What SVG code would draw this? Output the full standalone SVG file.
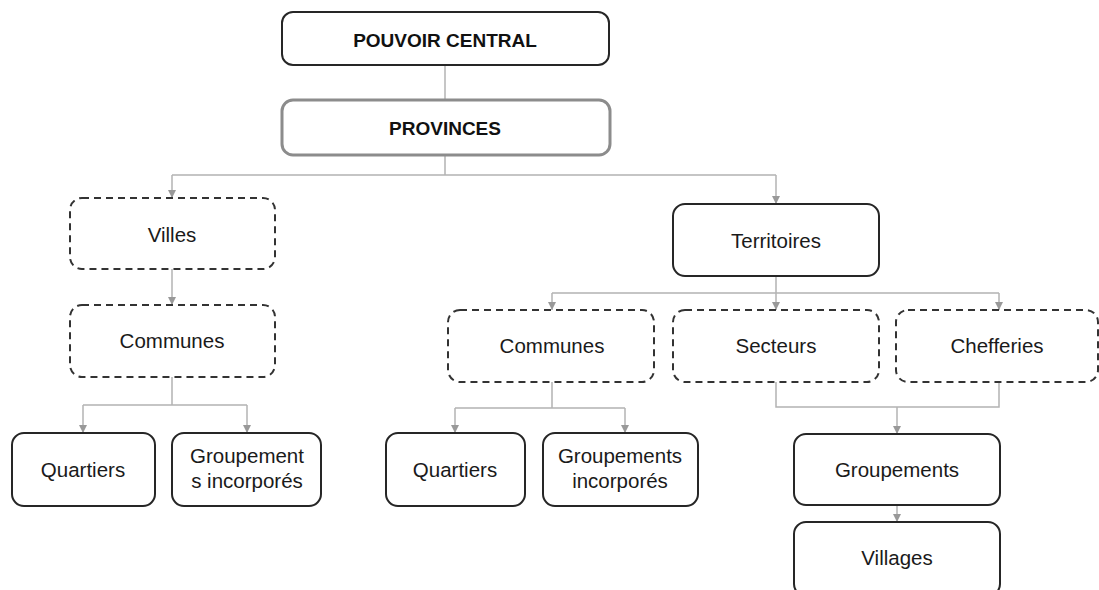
<svg xmlns="http://www.w3.org/2000/svg" width="1099" height="590" viewBox="0 0 1099 590">
  <style>
    .box { fill: #ffffff; stroke: #262626; stroke-width: 2; }
    .dash { fill: #ffffff; stroke: #333333; stroke-width: 2; stroke-dasharray: 7 5; }
    .prov { fill: #ffffff; stroke: #8c8c8c; stroke-width: 3; }
    .lbl { font-family: "Liberation Sans", Arial, sans-serif; font-size: 20.5px; fill: #1a1a1a; text-anchor: middle; }
    .head { font-family: "Liberation Sans", Arial, sans-serif; font-size: 19px; font-weight: bold; fill: #111111; text-anchor: middle; }
    .link { fill: none; stroke: #b3b3b3; stroke-width: 1.5; }
    .arrow { fill: none; stroke: #b3b3b3; stroke-width: 1.5; marker-end: url(#tip); }
  </style>
  <defs>
    <marker id="tip" viewBox="0 0 10 10" refX="10" refY="5" markerWidth="5.5" markerHeight="5.5" orient="auto" markerUnits="strokeWidth">
      <path d="M0,0 L10,5 L0,10 Z" fill="#999999"/>
    </marker>
  </defs>
  <rect width="1099" height="590" fill="#ffffff"/>

  <g id="connectors">
    <line class="link" x1="445" y1="65" x2="445" y2="100"/>
    <path class="link" d="M445,155 V175 M172,175 H776"/>
    <path class="arrow" d="M172,175 V198"/>
    <path class="arrow" d="M776,175 V204"/>
    <path class="arrow" d="M172,269 V305"/>
    <path class="link" d="M172,377 V405 M83,405 H247"/>
    <path class="arrow" d="M83,405 V433"/>
    <path class="arrow" d="M247,405 V433"/>
    <path class="link" d="M776,276 V293 M552,293 H999"/>
    <path class="arrow" d="M552,293 V310"/>
    <path class="arrow" d="M776,293 V310"/>
    <path class="arrow" d="M999,293 V310"/>
    <path class="link" d="M552,382 V408 M455,408 H625"/>
    <path class="arrow" d="M455,408 V433"/>
    <path class="arrow" d="M625,408 V433"/>
    <path class="link" d="M776,382 V407 H999 V382"/>
    <path class="arrow" d="M897,407 V434"/>
    <path class="arrow" d="M897,505 V522"/>
  </g>

  <g id="pouvoir-central">
    <rect class="box" x="282" y="12" width="327" height="53" rx="11" stroke-width="2.5"/>
    <text class="head" x="445" y="47">POUVOIR CENTRAL</text>
  </g>
  <g id="provinces">
    <rect class="prov" x="282" y="100" width="328" height="55" rx="11"/>
    <text class="head" x="445" y="135">PROVINCES</text>
  </g>

  <g id="villes">
    <rect class="dash" x="70" y="198" width="205" height="71" rx="12"/>
    <text class="lbl" x="172" y="242">Villes</text>
  </g>
  <g id="communes-villes">
    <rect class="dash" x="70" y="305" width="205" height="72" rx="12"/>
    <text class="lbl" x="172" y="348">Communes</text>
  </g>
  <g id="quartiers-villes">
    <rect class="box" x="12" y="433" width="143" height="73" rx="12"/>
    <text class="lbl" x="83" y="477">Quartiers</text>
  </g>
  <g id="groupements-incorpores-villes">
    <rect class="box" x="172" y="433" width="149" height="73" rx="12"/>
    <text class="lbl" x="247" y="463">Groupement</text>
    <text class="lbl" x="247" y="488">s incorporés</text>
  </g>

  <g id="territoires">
    <rect class="box" x="673" y="204" width="206" height="72" rx="12"/>
    <text class="lbl" x="776" y="248">Territoires</text>
  </g>
  <g id="communes-territoires">
    <rect class="dash" x="448" y="310" width="206" height="72" rx="12"/>
    <text class="lbl" x="552" y="353">Communes</text>
  </g>
  <g id="secteurs">
    <rect class="dash" x="673" y="310" width="206" height="72" rx="12"/>
    <text class="lbl" x="776" y="353">Secteurs</text>
  </g>
  <g id="chefferies">
    <rect class="dash" x="896" y="310" width="202" height="72" rx="12"/>
    <text class="lbl" x="997" y="353">Chefferies</text>
  </g>
  <g id="quartiers-territoires">
    <rect class="box" x="386" y="433" width="139" height="73" rx="12"/>
    <text class="lbl" x="455" y="477">Quartiers</text>
  </g>
  <g id="groupements-incorpores-territoires">
    <rect class="box" x="543" y="433" width="155" height="73" rx="12"/>
    <text class="lbl" x="620" y="463">Groupements</text>
    <text class="lbl" x="620" y="488">incorporés</text>
  </g>
  <g id="groupements">
    <rect class="box" x="794" y="434" width="206" height="71" rx="12"/>
    <text class="lbl" x="897" y="477">Groupements</text>
  </g>
  <g id="villages">
    <rect class="box" x="794" y="522" width="206" height="74" rx="12"/>
    <text class="lbl" x="897" y="565">Villages</text>
  </g>
</svg>
